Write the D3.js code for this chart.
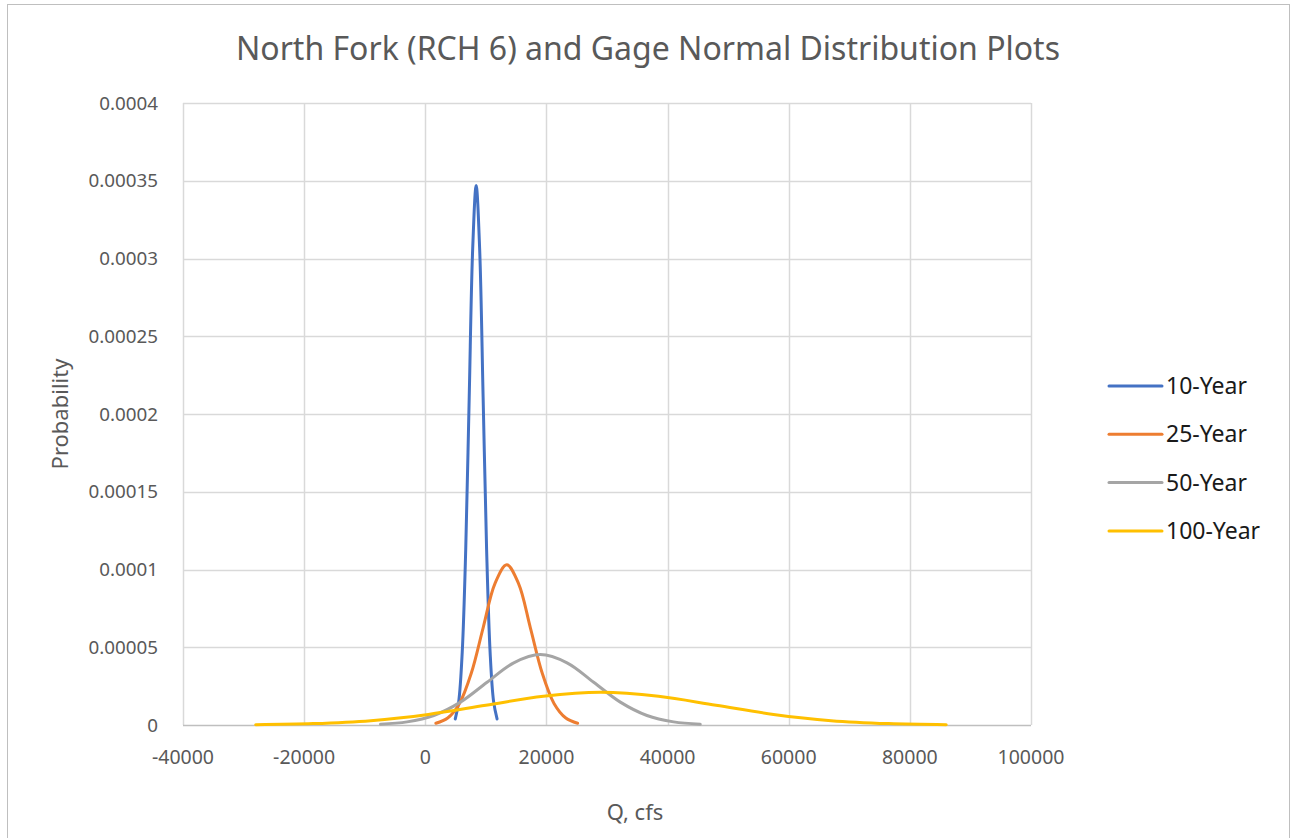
<!DOCTYPE html>
<html>
<head>
<meta charset="utf-8">
<script src="https://cdn.jsdelivr.net/npm/d3@7"></script>
<style>
  body { margin: 0; background: #fff; }
  text { font-family: "Noto Sans", "Liberation Sans", sans-serif; fill: #595959; }
</style>
</head>
<body>
<div id="chart"></div>
<script>
// series: [Q, probability]
var year10 = [[4950, 0.0000039], [5525, 0.0000152], [6100, 0.0000469], [6675, 0.0001127], [7250, 0.0002105],
  [7825, 0.0003062], [8400, 0.000347], [8975, 0.0003062], [9550, 0.0002105], [10125, 0.0001127],
  [10700, 0.0000469], [11275, 0.0000152], [11850, 0.0000039]];
var year25 = [[1750, 0.0000011], [3700, 0.0000045], [5650, 0.0000139], [7600, 0.0000334], [9550, 0.0000625],
  [11500, 0.0000909], [13450, 0.000103], [15400, 0.0000909], [17350, 0.0000625], [19300, 0.0000334],
  [21250, 0.0000139], [23200, 0.0000045], [25150, 0.0000011]];
var year50 = [[-7400, 0.0000005], [-3000, 0.000002], [1400, 0.0000061], [5800, 0.0000147], [10200, 0.0000275],
  [14600, 0.00004], [19000, 0.0000453], [23400, 0.00004], [27800, 0.0000275], [32200, 0.0000147],
  [36600, 0.0000061], [41000, 0.000002], [45400, 0.0000005]];
var year100 = [[-28000, 0.0000002], [-18500, 0.0000009], [-9000, 0.0000028], [500, 0.0000068], [10000, 0.0000127],
  [19500, 0.0000185], [29000, 0.000021], [38500, 0.0000185], [48000, 0.0000127], [57500, 0.0000068],
  [67000, 0.0000028], [76500, 0.0000009], [86000, 0.0000002]];

var seriesNames = ['10-Year', '25-Year', '50-Year', '100-Year'];
var seriesColors = ['#4472C4', '#ED7D31', '#A5A5A5', '#FFC000'];
var xTicks = [-40000, -20000, 0, 20000, 40000, 60000, 80000, 100000];
var yTicks = [0, 0.00005, 0.0001, 0.00015, 0.0002, 0.00025, 0.0003, 0.00035, 0.0004];
var yTickLabels = ['0', '0.00005', '0.0001', '0.00015', '0.0002', '0.00025', '0.0003', '0.00035', '0.0004'];

var W = 1291, H = 838;
var plot = { left: 183, right: 1031, top: 103, bottom: 725 };

var svg = d3.select('#chart').append('svg').attr('width', W).attr('height', H);

svg.append('rect')
  .attr('x', 7.5).attr('y', 4.5).attr('width', 1282).attr('height', 860)
  .attr('fill', '#fff').attr('stroke', '#bfbfbf').attr('stroke-width', 1);

var x = d3.scaleLinear().domain([-40000, 100000]).range([plot.left, plot.right]);
var y = d3.scaleLinear().domain([0, 0.0004]).range([plot.bottom, plot.top]);

// gridlines
var grid = svg.append('g');
grid.selectAll('line.v').data(xTicks).enter().append('line')
  .attr('x1', function(d) { return Math.round(x(d)) + 0.5; })
  .attr('x2', function(d) { return Math.round(x(d)) + 0.5; })
  .attr('y1', plot.top).attr('y2', plot.bottom)
  .attr('stroke', '#d9d9d9').attr('stroke-width', 1.5);
grid.selectAll('line.h').data(yTicks.slice(1)).enter().append('line')
  .attr('x1', plot.left).attr('x2', plot.right)
  .attr('y1', function(d) { return Math.round(y(d)) + 0.5; })
  .attr('y2', function(d) { return Math.round(y(d)) + 0.5; })
  .attr('stroke', '#d9d9d9').attr('stroke-width', 1.5);

// bottom axis line
svg.append('line')
  .attr('x1', plot.left).attr('x2', plot.right)
  .attr('y1', plot.bottom + 0.5).attr('y2', plot.bottom + 0.5)
  .attr('stroke', '#bfbfbf').attr('stroke-width', 1.5);

// tick labels
svg.append('g').selectAll('text').data(xTicks).enter().append('text')
  .attr('x', function(d) { return x(d); })
  .attr('y', 764)
  .attr('text-anchor', 'middle')
  .style('font-size', '19.5px')
  .text(function(d) { return d; });

svg.append('g').selectAll('text').data(yTicks).enter().append('text')
  .attr('x', 158)
  .attr('y', function(d) { return y(d) + 6.5; })
  .attr('text-anchor', 'end')
  .style('font-size', '18.8px')
  .text(function(d, i) { return yTickLabels[i]; });

// lines
var line = d3.line()
  .x(function(d) { return x(d[0]); })
  .y(function(d) { return y(d[1]); })
  .curve(d3.curveCatmullRom.alpha(0.5));

var allSeries = [year10, year25, year50, year100];
svg.append('g').selectAll('path').data(allSeries).enter().append('path')
  .attr('d', line)
  .attr('fill', 'none')
  .attr('stroke', function(d, i) { return seriesColors[i]; })
  .attr('stroke-width', 3)
  .attr('stroke-linecap', 'round')
  .attr('stroke-linejoin', 'round');

// titles
svg.append('text')
  .attr('x', 648).attr('y', 60)
  .attr('text-anchor', 'middle')
  .style('font-size', '32px')
  .text('North Fork (RCH 6) and Gage Normal Distribution Plots');

svg.append('text')
  .attr('x', 635).attr('y', 820)
  .attr('text-anchor', 'middle')
  .style('font-size', '22px')
  .text('Q, cfs');

svg.append('text')
  .attr('transform', 'translate(68,414) rotate(-90)')
  .attr('text-anchor', 'middle')
  .style('font-size', '22px')
  .text('Probability');

// legend
var legend = svg.append('g').selectAll('g').data(seriesNames).enter().append('g')
  .attr('transform', function(d, i) { return 'translate(1109,' + (386 + i * 48.3) + ')'; });
legend.append('line')
  .attr('x1', 0).attr('x2', 53).attr('y1', 0).attr('y2', 0)
  .attr('stroke', function(d, i) { return seriesColors[i]; })
  .attr('stroke-width', 3).attr('stroke-linecap', 'round');
legend.append('text')
  .attr('x', 57).attr('y', 8)
  .style('font-size', '23px').style('fill', '#1a1a1a')
  .text(function(d) { return d; });
</script>
</body>
</html>
